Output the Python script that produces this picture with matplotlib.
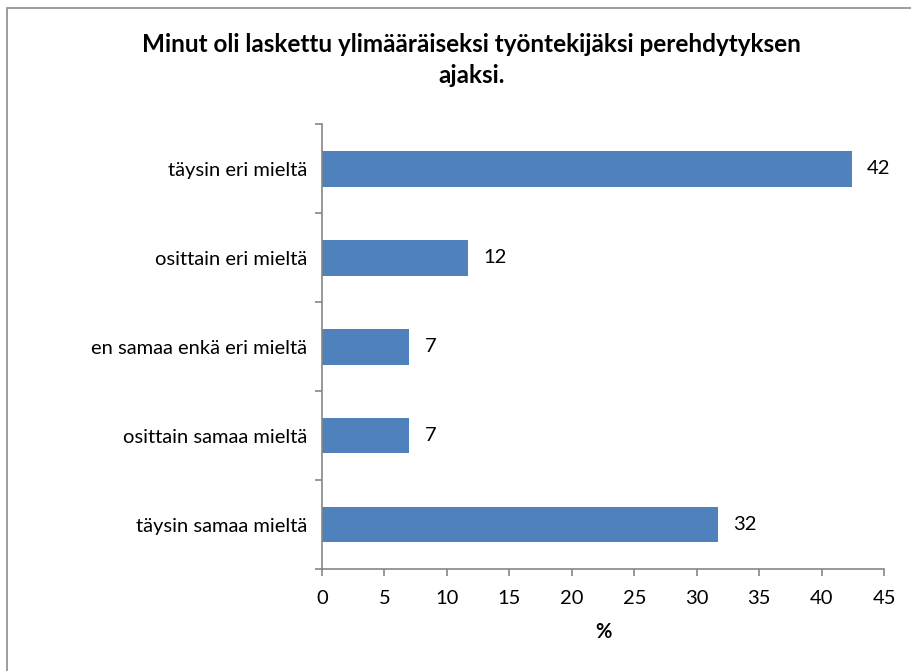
import matplotlib
matplotlib.use('Agg')
from matplotlib import pyplot as plt
from matplotlib.patches import Rectangle

# Survey answers, top to bottom
categories = ['täysin eri mieltä', 'osittain eri mieltä', 'en samaa enkä eri mieltä',
              'osittain samaa mieltä', 'täysin samaa mieltä']
percent = [42.4, 11.7, 7.0, 7.0, 31.7]
x_ticks = [0, 5, 10, 15, 20, 25, 30, 35, 40, 45]

title = 'Minut oli laskettu ylimääräiseksi työntekijäksi perehdytyksen\najaksi.'

plt.rcParams['font.family'] = ['Lato', 'DejaVu Sans']
bar_color = '#4F81BD'
axis_color = '#868686'
fs = 14.5

fig = plt.figure(figsize=(9.11, 6.71), dpi=100)
ax = fig.add_axes([0.3535, 0.152, 0.6169, 0.6625])

# outer chart frame
fig.patches.append(Rectangle((7 / 911, -0.1), 1.2, 1 - 8 / 671 + 0.1,
                             transform=fig.transFigure, fill=False,
                             edgecolor='#8c8c8c', linewidth=1.2))

pos = list(range(len(categories)))[::-1]
ax.barh(pos, percent, height=0.4, color=bar_color, zorder=2)
for p, v in zip(pos, percent):
    ax.text(v + 1.2, p, '%.0f' % v, va='center', ha='left', fontsize=fs, color='black')

ax.set_xlim(0, 45)
ax.set_ylim(-0.5, len(categories) - 0.5)
ax.set_xticks(x_ticks)
ax.set_xticklabels([str(t) for t in x_ticks], fontsize=fs)
ax.set_yticks(pos)
ax.set_yticklabels(categories, fontsize=fs)
ax.tick_params(axis='y', length=0, pad=11)
ax.set_yticks([i - 0.5 for i in range(len(categories) + 1)], minor=True)
ax.tick_params(axis='y', which='minor', length=5, color=axis_color, width=1.2)
ax.tick_params(axis='x', length=5, color=axis_color, width=1.2, pad=10)

for s in ['top', 'right']:
    ax.spines[s].set_visible(False)
for s in ['left', 'bottom']:
    ax.spines[s].set_color(axis_color)
    ax.spines[s].set_linewidth(1.2)

ax.set_xlabel('%', fontsize=fs, fontweight='bold', labelpad=11)
fig.text(0.518, 0.951, title, ha='center', va='top', fontsize=17.5,
         fontweight='bold', linespacing=1.45)

plt.savefig('out.png', dpi=100)
